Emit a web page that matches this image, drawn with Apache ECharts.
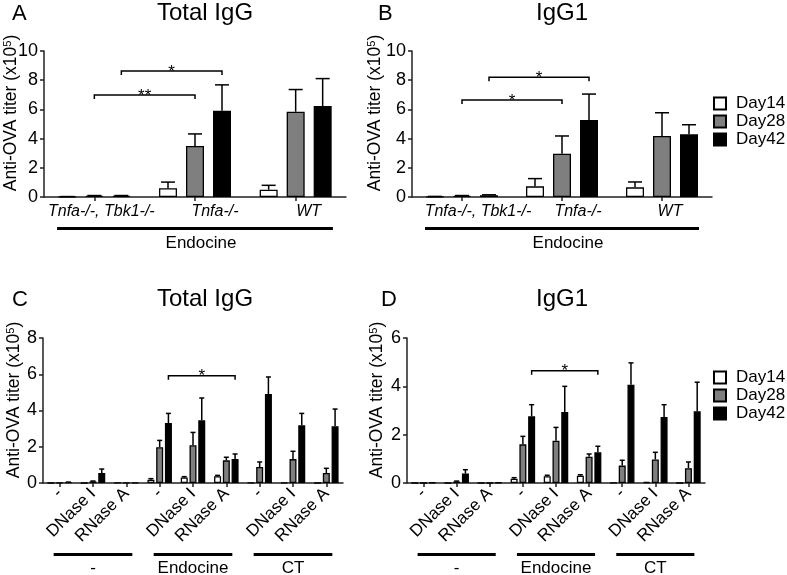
<!DOCTYPE html>
<html><head><meta charset="utf-8">
<script src="https://cdn.jsdelivr.net/npm/echarts@6/dist/echarts.min.js"></script>
<style>html,body{margin:0;padding:0;background:#fff}#c{width:787px;height:575px}</style>
</head><body><div id="c"></div>
<script>
// ---------- data ----------
const dayNames = ['Day14', 'Day28', 'Day42'];
const topCats = ['Tnfa-/-, Tbk1-/-', 'Tnfa-/-', 'WT'];
const topGroupLabels = ['Endocine'];
const topGroupStart = [0];
const topGroupEnd = [2];
const topYTicks = [0, 2, 4, 6, 8, 10];

const A_d14 = [0.02, 0.60, 0.50], A_d14_sd = [0.01, 0.42, 0.30];
const A_d28 = [0.08, 3.50, 5.84], A_d28_sd = [0.02, 0.82, 1.52];
const A_d42 = [0.08, 5.90, 6.23], A_d42_sd = [0.02, 1.78, 1.88];
const A_brFrom = [0, 0], A_brTo = [1, 1], A_brDay = [1, 2], A_brY = [6.99, 8.63], A_brLabel = ['**', '*'];

const B_d14 = [0.03, 0.73, 0.66], B_d14_sd = [0.01, 0.53, 0.37];
const B_d28 = [0.08, 2.97, 4.18], B_d28_sd = [0.02, 1.21, 1.59];
const B_d42 = [0.12, 5.27, 4.29], B_d42_sd = [0.03, 1.78, 0.66];
const B_brFrom = [0, 0], B_brTo = [1, 1], B_brDay = [1, 2], B_brY = [6.64, 8.2], B_brLabel = ['*', '*'];

const botCats = ['-', 'DNase I', 'RNase A', '-', 'DNase I', 'RNase A', '-', 'DNase I', 'RNase A'];
const botGroupLabels = ['-', 'Endocine', 'CT'];
const botGroupStart = [0, 3, 6];
const botGroupEnd = [2, 5, 8];
const C_yTicks = [0, 2, 4, 6, 8];
const D_yTicks = [0, 2, 4, 6];

const C_d14 = [0, 0, 0.01, 0.18, 0.31, 0.37, 0.01, 0.02, 0];
const C_d14_sd = [0, 0, 0, 0.06, 0.04, 0.05, 0, 0, 0];
const C_d28 = [0.01, 0.09, 0.02, 1.97, 2.08, 1.25, 0.88, 1.32, 0.55];
const C_d28_sd = [0, 0.02, 0, 0.38, 0.71, 0.17, 0.28, 0.43, 0.26];
const C_d42 = [0.04, 0.55, 0.02, 3.31, 3.46, 1.32, 4.91, 3.18, 3.13];
const C_d42_sd = [0.01, 0.22, 0, 0.53, 1.23, 0.28, 0.94, 0.66, 0.95];
const C_brFrom = [3], C_brTo = [5], C_brDay = [2], C_brY = [5.92], C_brLabel = ['*'];

const D_d14 = [0, 0, 0, 0.18, 0.28, 0.30, 0.01, 0.04, 0];
const D_d14_sd = [0, 0, 0, 0.04, 0.04, 0.04, 0, 0, 0];
const D_d28 = [0, 0.06, 0, 1.60, 1.75, 1.09, 0.72, 0.97, 0.61];
const D_d28_sd = [0, 0.02, 0, 0.33, 0.55, 0.11, 0.22, 0.30, 0.26];
const D_d42 = [0.02, 0.39, 0.02, 2.76, 2.94, 1.27, 4.07, 2.73, 2.97];
const D_d42_sd = [0, 0.16, 0, 0.48, 1.06, 0.25, 0.90, 0.51, 1.20];
const D_brFrom = [3], D_brTo = [5], D_brDay = [2], D_brY = [4.65], D_brLabel = ['*'];

const panelTitles = ['Total IgG', 'IgG1', 'Total IgG', 'IgG1'];
const panelLetters = ['A', 'B', 'C', 'D'];
const yTitle = 'Anti-OVA titer (x10{s|5})';

// ---------- styles / layout ----------
const FONT = '"Liberation Sans", Arial, Helvetica, sans-serif';
const dayColors = ['#ffffff', '#7f7f7f', '#000000'];
const panels = [
  {grid: {left: 44, top: 51, width: 302, height: 146}, cats: topCats, ticks: topYTicks,
   d: [A_d14, A_d28, A_d42], sd: [A_d14_sd, A_d28_sd, A_d42_sd],
   br: [A_brFrom, A_brTo, A_brY, A_brDay], brLabel: A_brLabel,
   barW: 18, gap: 0.5, cap: 14, top: true, shift: [7, 20, 13]},
  {grid: {left: 412, top: 51, width: 300, height: 146}, cats: topCats, ticks: topYTicks,
   d: [B_d14, B_d28, B_d42], sd: [B_d14_sd, B_d28_sd, B_d42_sd],
   br: [B_brFrom, B_brTo, B_brY, B_brDay], brLabel: B_brLabel,
   barW: 18, gap: 0.5, cap: 14, top: true, shift: [16, 16, 8]},
  {grid: {left: 43, top: 338, width: 300, height: 145}, cats: botCats, ticks: C_yTicks,
   d: [C_d14, C_d28, C_d42], sd: [C_d14_sd, C_d28_sd, C_d42_sd],
   br: [C_brFrom, C_brTo, C_brY, C_brDay], brLabel: C_brLabel,
   barW: 7, gap: 0.25, cap: 5, top: false},
  {grid: {left: 407, top: 338, width: 298, height: 145}, cats: botCats, ticks: D_yTicks,
   d: [D_d14, D_d28, D_d42], sd: [D_d14_sd, D_d28_sd, D_d42_sd],
   br: [D_brFrom, D_brTo, D_brY, D_brDay], brLabel: D_brLabel,
   barW: 7, gap: 0.25, cap: 5, top: false}
];
const titlePos = [
  {letter: [12, 3], title: [157, 1]},
  {letter: [378, 3], title: [536, 1]},
  {letter: [12, 289], title: [157, 287]},
  {letter: [381, 289], title: [536, 287]}
];
const yTitlePos = [[11, 113], [375, 113], [14, 400], [377, 400]];

const axisLineStyle = {color: '#222', width: 1.5};

function makeErr(k, p) {
  return function (params, api) {
    const cat = api.value(0), mean = api.value(1), sd = api.value(2);
    if (!(sd > 0)) return null;
    const a = api.coord([cat, mean]);
    const b = api.coord([cat, mean + sd]);
    const x = a[0] + (k - 1) * p.barW * (1 + p.gap);
    return {type: 'group', children: [
      {type: 'line', shape: {x1: x, y1: a[1], x2: x, y2: b[1]}, style: {stroke: '#000', lineWidth: 1.5}},
      {type: 'line', shape: {x1: x - p.cap / 2, y1: b[1], x2: x + p.cap / 2, y2: b[1]}, style: {stroke: '#000', lineWidth: 1.5}}
    ]};
  };
}
function makeBracket(p) {
  return function (params, api) {
    const from = api.value(0), to = api.value(1), y = api.value(2), day = api.value(3);
    const off = (day - 1) * p.barW * (1 + p.gap);
    const a = api.coord([from, y]), b = api.coord([to, y]);
    const x1 = a[0] + off, x2 = b[0] + off, yy = a[1];
    return {type: 'group', children: [
      {type: 'polyline', shape: {points: [[x1, yy + 4], [x1, yy], [x2, yy], [x2, yy + 4]]},
       style: {stroke: '#000', lineWidth: 1.5, fill: null}},
      {type: 'text', x: (x1 + x2) / 2, y: yy + 1,
       style: {text: p.brLabel[params.dataIndex], fontSize: 17, fontFamily: FONT, fill: '#000',
               align: 'center', verticalAlign: 'middle'}}
    ]};
  };
}

const titles = [];
panels.forEach((p, i) => {
  titles.push({text: panelLetters[i], left: titlePos[i].letter[0], top: titlePos[i].letter[1], padding: 0,
    textStyle: {fontSize: 22, fontWeight: 'normal', color: '#000', fontFamily: FONT}});
  titles.push({text: panelTitles[i], left: titlePos[i].title[0], top: titlePos[i].title[1], padding: 0,
    textStyle: {fontSize: 24, fontWeight: 'normal', color: '#000', fontFamily: FONT}});
});

const series = [];
panels.forEach((p, i) => {
  for (let k = 0; k < 3; k++) {
    series.push({type: 'bar', name: dayNames[k], xAxisIndex: i, yAxisIndex: i, data: p.d[k],
      barWidth: p.barW, barGap: (p.gap * 100) + '%',
      itemStyle: {color: dayColors[k], borderColor: '#000', borderWidth: 1.3}, z: 2});
  }
  for (let k = 0; k < 3; k++) {
    series.push({type: 'custom', name: 'err' + i + k, xAxisIndex: i, yAxisIndex: i, silent: true, z: 3,
      data: p.d[k].map((v, j) => [j, v, p.sd[k][j]]), encode: {x: 0, y: 1},
      renderItem: makeErr(k, p)});
  }
  series.push({type: 'custom', name: 'br' + i, xAxisIndex: i, yAxisIndex: i, silent: true, z: 4,
    data: p.br[0].map((f, j) => [f, p.br[1][j], p.br[2][j], p.br[3][j]]), encode: {x: 0, y: 2},
    renderItem: makeBracket(p)});
});

const legendCommon = {data: dayNames, orient: 'vertical', left: 713, padding: 0, itemWidth: 12, itemHeight: 12,
  itemGap: 1, icon: 'rect', selectedMode: false,
  textStyle: {fontSize: 17, color: '#000', fontFamily: FONT, padding: [0, 0, 0, 5]}};

const option = {
  animation: false,
  backgroundColor: '#fff',
  textStyle: {fontFamily: FONT, color: '#000'},
  title: titles,
  legend: [Object.assign({top: 95}, legendCommon), Object.assign({top: 369}, legendCommon)],
  grid: panels.map(p => Object.assign({containLabel: false, outerBoundsMode: 'none'}, p.grid)),
  xAxis: panels.map((p, i) => ({
    type: 'category', gridIndex: i,
    data: p.top ? p.cats.map((c, j) => ({value: c, textStyle: {padding: [0, 0, 0, 2 * p.shift[j]]}})) : p.cats,
    axisLine: {lineStyle: axisLineStyle},
    axisTick: {show: true, alignWithLabel: true, length: 4, lineStyle: axisLineStyle},
    axisLabel: p.top
      ? {interval: 0, fontSize: 16, fontStyle: 'italic', color: '#000', fontFamily: FONT, margin: 7}
      : {interval: 0, fontSize: 17, rotate: 45, color: '#000', fontFamily: FONT, margin: 8}
  })),
  yAxis: panels.map((p, i) => ({
    type: 'value', gridIndex: i, min: p.ticks[0], max: p.ticks[p.ticks.length - 1],
    interval: p.ticks[1] - p.ticks[0],
    axisLine: {show: true, lineStyle: axisLineStyle},
    axisTick: {show: true, length: 4, lineStyle: axisLineStyle},
    axisLabel: {fontSize: 18, color: '#000', fontFamily: FONT, margin: 6},
    splitLine: {show: false}
  })),
  series: series
};

const chart = echarts.init(document.getElementById('c'), null, {renderer: 'canvas'});
chart.setOption(option);

// decorations: group lines, group labels, y titles
const graphics = [];
panels.forEach((p, i) => {
  graphics.push({type: 'text', x: yTitlePos[i][0], y: yTitlePos[i][1], rotation: Math.PI / 2,
    style: {text: yTitle, fontSize: 17.5, fontFamily: FONT, fill: '#000', align: 'center', verticalAlign: 'middle',
      rich: {s: {fontSize: 11, fontFamily: FONT, verticalAlign: 'top', padding: [0, 0, 6, 0]}}}});
  const c0 = chart.convertToPixel({xAxisIndex: i}, 0);
  const c1 = chart.convertToPixel({xAxisIndex: i}, 1);
  const bw = c1 - c0;
  const yBottom = p.grid.top + p.grid.height;
  const starts = p.top ? topGroupStart : botGroupStart;
  const ends = p.top ? topGroupEnd : botGroupEnd;
  const labels = p.top ? topGroupLabels : botGroupLabels;
  const ext = p.top ? 0.37 : 0.18;
  const lineY = p.top ? yBottom + 30 : yBottom + 70;
  const textY = p.top ? yBottom + 46 : yBottom + 85;
  starts.forEach((s, g) => {
    const xs = chart.convertToPixel({xAxisIndex: i}, s) - ext * bw;
    const xe = chart.convertToPixel({xAxisIndex: i}, ends[g]) + ext * bw;
    graphics.push({type: 'rect', shape: {x: xs, y: lineY, width: xe - xs, height: 3}, style: {fill: '#000'}});
    graphics.push({type: 'text', x: (xs + xe) / 2 + (p.top ? 6 : 0), y: textY,
      style: {text: labels[g], fontSize: 17, fontFamily: FONT, fill: '#000', align: 'center', verticalAlign: 'middle'}});
  });
});
chart.setOption({graphic: graphics});
</script>
</body></html>
